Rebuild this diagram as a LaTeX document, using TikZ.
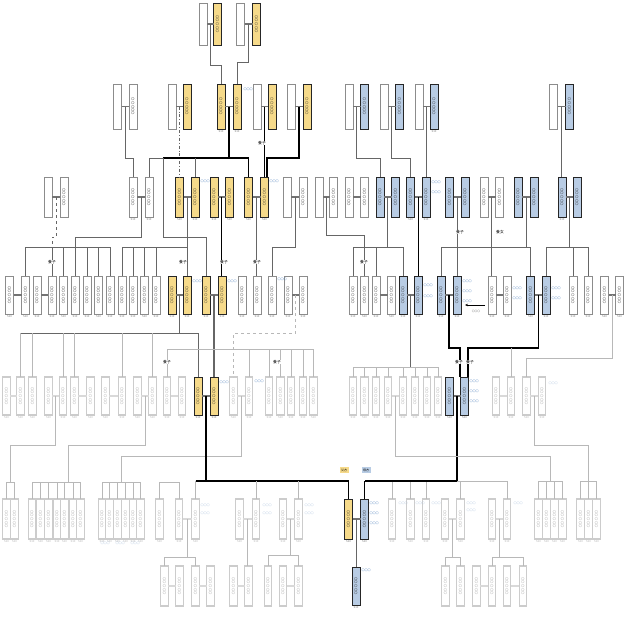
\documentclass[tikz,border=0pt]{standalone}
\usepackage{fontspec}
\newfontfamily\jp{Noto Sans CJK JP}
\usetikzlibrary{calc,arrows.meta}
\definecolor{ylw}{HTML}{F6DA8A}
\definecolor{blu}{HTML}{B8CCE4}
\definecolor{lbl}{HTML}{4A7EBB}
\newcommand\nm{〇〇 〇〇〇}
\newcommand\drops[3]{\foreach \cc in {#3}{\draw[#1] (#2 -| \cc) -- (\cc.north);}}
\newcommand\cpair[4]{\draw[#1] (#2.east) -- (#3.west); \coordinate (#4) at ($(#2)!.5!(#3)$);}
\tikzset{
 box/.style={rectangle, minimum width=8pt, inner sep=0pt, outer sep=0pt},
 yb/.style={box, fill=ylw, draw=black!85, line width=0.8pt},
 bb/.style={box, fill=blu, draw=black!85, line width=0.8pt},
 wb/.style={box, fill=white, draw=black!45, line width=0.5pt},
 fb/.style={box, minimum width=7.4pt, fill=white, draw=black!20, line width=1.2pt},
 txt/.style={rotate=-90, font=\jp\fontsize{3.3}{3.5}\selectfont, text=black!90, inner sep=0pt},
 ftxt/.style={txt, text=black!40},
 dl/.style={font=\jp\fontsize{2.8}{3}\selectfont, text=black!50, inner sep=0.3pt},
 fdl/.style={dl, text=black!28},
 bl/.style={font=\jp\fontsize{3.1}{3.3}\selectfont, text=lbl, inner sep=0.3pt, anchor=west},
 fbl/.style={bl, text=lbl!45},
 yz/.style={font=\jp\fontsize{3.8}{4}\selectfont, text=black, fill=white, inner sep=0.5pt},
 conn/.style={draw=black!60, line width=0.8pt},
 mainl/.style={draw=black, line width=1.2pt},
 fconn/.style={draw=black!28, line width=0.9pt},
 cpl/.style={draw=black!55, line width=1.6pt},
 fcpl/.style={draw=black!15, line width=2.6pt},
 head/.style={font=\jp\fontsize{3}{3.2}\selectfont, inner sep=1.5pt},
}
\begin{document}
\begin{tikzpicture}[x=1pt,y=-1pt]
\useasboundingbox (0,0) rectangle (625,625);
\fill[white] (0,0) rectangle (625,625);
% ---------------- Row 1
\foreach \n/\x in {t1a/203, t2a/240.5} \node[wb, minimum height=42pt] (\n) at (\x,24) {};
\foreach \n/\x in {t1b/217.5, t2b/256.5} {\node[yb, minimum height=42pt] (\n) at (\x,24) {}; \node[txt] (\n-t) at (\n) {\nm};}
% ---------------- Row 2
\foreach \n/\x in {a1/117.5, b1/172, d1/257, e1/291, f1/349, g1/384, h1/419, i1/553.5} \node[wb, minimum height=45pt] (\n) at (\x,106.5) {};
\foreach \n/\x/\s in {a2/133/wb, b2/187/yb, c1/221/yb, c2/237/yb, d2/272/yb, e2/307/yb, f2/364.5/bb, g2/399.5/bb, h2/434/bb, i2/569.5/bb}
 {\node[\s, minimum height=45pt] (\n) at (\x,106.5) {}; \node[txt] (\n-t) at (\n) {\nm};}
\foreach \n in {c1,c2,h2} \node[dl, below=1pt] (\n-d) at (\n.south) {S10};
% ---------------- Row 3
\foreach \n/\x in {s1/48, s11/287, s13/319} \node[wb, minimum height=40pt] (\n) at (\x,197) {};
\foreach \n/\x/\s in {s2/64/wb, s3/133/wb, s4/149/wb, s5/179.5/yb, s6/195/yb, s7/214/yb, s8/229.5/yb, s9/248.5/yb, s10/264.5/yb, s12/303/wb, s14/333.5/wb, s15/349/wb, s16/364.5/wb, s17/380/bb, s18/395.5/bb, s19/410.5/bb, s20/426/bb, s21/449.5/bb, s22/465/bb, s23/484/wb, s24/499.5/wb, s25/518/bb, s26/534/bb, s27/562/bb, s28/577/bb}
 {\node[\s, minimum height=40pt] (\n) at (\x,197) {}; \node[txt] (\n-t) at (\n) {\nm};}
\foreach \n in {s3,s4,s5,s6,s7,s8,s9,s10,s19,s20,s27} \node[dl, below=1pt] (\n-d) at (\n.south) {S10};
% ---------------- Row 4
\foreach \n/\x/\s in {q1/9.5/wb, q2/25.5/wb, q3/37/wb, q4/52/wb, q5/63.5/wb, q6/75/wb, q7/87/wb, q8/98.5/wb, q9/110/wb, q10/122/wb, q11/133/wb, q12/144.5/wb, q13/156/wb, q14/172/yb, q15/187/yb, q16/206/yb, q17/222/yb, q18/242/wb, q19/257/wb, q20/272/wb, q21/288/wb, q22/303/wb, p1/353/wb, p2/364.5/wb, p3/376/wb, p4/391.5/wb, p5/403/bb, p6/418/bb, p7/441/bb, p8/457/bb, p9/492/wb, p10/507/wb, p11/530.5/bb, p12/546/bb, p13/573/wb, p14/588/wb, p15/604.5/wb, p16/619.5/wb}
 {\node[\s, minimum height=38pt] (\n) at (\x,295) {}; \node[txt] (\n-t) at (\n) {\nm}; \node[dl, below=1pt] (\n-d) at (\n.south) {S10};}
% ---------------- Row 5
\foreach \n/\x in {v1/6.5, v2/20.5, v3/32.5, v4/48.5, v5/63, v6/74.5, v7/90.5, v8/105.5, v9/122, v10/137.5, v11/152.5, v12/167, v13/182, v16/233.5, v17/249, v18/269, v19/280.5, v20/291, v21/303, v22/313.5, w1/353, w2/364.5, w3/376, w4/388, w5/403, w6/415, w7/427, w8/438, w11/496, w12/511, w13/526.5, w14/542}
 {\node[fb, minimum height=38pt] (\n) at (\x,396) {}; \node[ftxt] (\n-t) at (\n) {\nm}; \node[fdl, below=1pt] (\n-d) at (\n.south) {S10};}
\foreach \n/\x/\s in {v14/198/yb, v15/214/yb, w9/449.5/bb, w10/464.5/bb}
 {\node[\s, minimum height=38pt] (\n) at (\x,396) {}; \node[txt] (\n-t) at (\n) {\nm}; \node[dl, below=1pt] (\n-d) at (\n.south) {S10};}
% ---------------- Row 6
\foreach \n/\x in {x1/6.5, x2/14.5, x3/32, x4/40.5, x5/48.5, x6/57, x7/64.5, x8/73, x9/80.5, x10/102, x11/109.5, x12/117.5, x13/125.5, x14/133, x15/140.5, x16/159.5, x17/179, x18/195.5, x19/239.5, x20/256, x21/283, x22/298.5, z1/392, z2/410.5, z3/426, z4/445, z5/460.5, z6/492, z7/507, z8/538.5, z9/546.5, z10/554.5, z11/562.5, z12/580.5, z13/588.5, z14/596.5}
 {\node[fb, minimum height=40pt] (\n) at (\x,519) {}; \node[ftxt] (\n-t) at (\n) {\nm}; \node[fdl, below=1pt] (\n-d) at (\n.south) {S10};}
\foreach \n/\x/\s in {y1/348.5/yb, y2/364.5/bb}
 {\node[\s, minimum height=40pt] (\n) at (\x,519) {}; \node[txt] (\n-t) at (\n) {\nm}; \node[dl, below=1pt] (\n-d) at (\n.south) {S10};}
% ---------------- Row 7
\foreach \n/\x in {u1/164.5, u2/179.5, u3/195.5, u4/210.5, u5/233.5, u6/248.5, u7/268, u8/283, u9/298.5, k1/445.5, k2/460.5, k3/476.5, k4/492, k5/507, k6/523}
 {\node[fb, minimum height=40pt] (\n) at (\x,586) {}; \node[ftxt] (\n-t) at (\n) {\nm};}
\node[bb, minimum height=38pt] (c0) at (356,586) {}; \node[txt] (c0-t) at (c0) {\nm};
\node[dl, below=1pt] (c0-d) at (c0.south) {S10};

% ---------------- couple connectors
\cpair{cpl}{t1a}{t1b}{T1} \cpair{cpl}{t2a}{t2b}{T2}
\cpair{cpl}{a1}{a2}{A} \cpair{cpl}{b1}{b2}{B} \cpair{cpl}{c1}{c2}{C} \cpair{cpl}{d1}{d2}{D} \cpair{cpl}{e1}{e2}{E}
\cpair{cpl}{f1}{f2}{F} \cpair{cpl}{g1}{g2}{G} \cpair{cpl}{h1}{h2}{H} \cpair{cpl}{i1}{i2}{I}
\cpair{cpl}{s1}{s2}{S1} \cpair{cpl}{s3}{s4}{S3} \cpair{cpl}{s5}{s6}{S5} \cpair{cpl}{s7}{s8}{S7} \cpair{cpl}{s9}{s10}{S9}
\cpair{cpl}{s11}{s12}{S11} \cpair{cpl}{s13}{s14}{S13} \cpair{cpl}{s15}{s16}{S15} \cpair{cpl}{s17}{s18}{S17} \cpair{cpl}{s19}{s20}{S19}
\cpair{cpl}{s21}{s22}{S21} \cpair{cpl}{s23}{s24}{S23} \cpair{cpl}{s25}{s26}{S25} \cpair{cpl}{s27}{s28}{S27}
\cpair{cpl}{q1}{q2}{Q1} \cpair{cpl}{q3}{q4}{Q3} \cpair{cpl}{q14}{q15}{Q14} \cpair{cpl}{q16}{q17}{Q16} \cpair{cpl}{q21}{q22}{Q21}
\cpair{cpl}{p3}{p4}{P3} \cpair{cpl}{p5}{p6}{P5} \cpair{cpl}{p7}{p8}{P7} \cpair{cpl}{p9}{p10}{P9} \cpair{cpl}{p11}{p12}{P11} \cpair{cpl}{p15}{p16}{P15}
\cpair{fcpl}{v1}{v2}{V1} \cpair{fcpl}{v4}{v5}{V4} \cpair{fcpl}{v6}{v7}{V6} \cpair{fcpl}{v8}{v9}{V8} \cpair{fcpl}{v10}{v11}{V10} \cpair{fcpl}{v12}{v13}{V12}
\cpair{cpl}{v14}{v15}{V14} \cpair{fcpl}{v16}{v17}{V16} \cpair{fcpl}{w4}{w5}{W4} \cpair{cpl}{w9}{w10}{W9} \cpair{fcpl}{w11}{w12}{W11} \cpair{fcpl}{w13}{w14}{W13}
\cpair{fcpl}{x17}{x18}{X17} \cpair{fcpl}{x19}{x20}{X19} \cpair{fcpl}{x21}{x22}{X21} \cpair{cpl}{y1}{y2}{Y1} \cpair{fcpl}{z4}{z5}{Z4} \cpair{fcpl}{z6}{z7}{Z6}
\cpair{fcpl}{u1}{u2}{U1} \cpair{fcpl}{u3}{u4}{U3} \cpair{fcpl}{u5}{u6}{U5} \cpair{fcpl}{u8}{u9}{U8} \cpair{fcpl}{k3}{k4}{K3} \cpair{fcpl}{k5}{k6}{K5}

% ---------------- row 1 -> 2
\draw[conn, line width=1pt] (T1) -- ++(0,41) -| (c1.north);
\draw[conn, line width=1pt] (T2) -- ++(0,38) -| (c2.north);
% ---------------- row 2 -> 3
\draw[conn] (A) -- ++(0,51.5) -| (s3.north);
\draw[conn, dash dot] (B) -- (B |- s5.north);
\draw[mainl] (C) -- ++(0,51.5) coordinate (Cj);
\coordinate (Cx) at (163,158);
\draw[conn] (Cj -| s4) -- (Cx);
\draw[mainl] (Cx) -- (Cj -| s9);
\drops{conn}{Cj}{s4,s6}
\drops{mainl}{Cj}{s9}
\draw[conn] (Cx) -- ++(0,79) -| (q16.north);
\draw[mainl] (D) -- (D |- s10.north);
\draw[mainl] (E) -- ++(0,51.5) -| ([xshift=2.5pt]s10.north);
\draw[conn] (F) -- ++(0,51.5) -| (s17.north);
\draw[conn] (G) -- ++(0,51.5) -| (s19.north);
\draw[conn] (H) -- (H |- s20.north);
\draw[conn] (I) -- (I |- s27.north);
% ---------------- row 3 -> 4
\draw[conn, dashed] (S1) -- ++(0,40) -| (q4.north);
\coordinate (L1) at (75,247);
\draw[conn] (S3) -- ++(0,40) -| (L1);
\draw[conn] (L1 -| q2) -- (L1 -| q9);
\drops{conn}{L1}{q2,q4,q5,q6,q7,q8,q9}
\draw[conn] (S5) -- ++(0,50) coordinate (S5j);
\draw[conn] (S5j -| q10) -- (S5j);
\drops{conn}{S5j}{q10,q11,q12,q13,q15}
\draw[mainl] (S7) -- (S7 |- q17.north);
\draw[conn] (S9) -- (S9 |- q19.north);
\draw[conn] (S11) -- ++(0,50) -| (q20.north);
\draw[conn] (S13) -- ++(0,38) -| (p2.north);
\draw[conn] (S17) -- ++(0,50) coordinate (S17j);
\draw[conn] (S17j -| p1) -- (S17j -| p5);
\drops{conn}{S17j}{p1,p3,p5}
\draw[mainl] (S19) -- (S19 |- p6.north);
\draw[conn] (S21) -- (S21 |- p8.north);
\draw[conn] (S23) -- (S23 |- p9.north);
\draw[conn] (S25) -- ++(0,50) coordinate (S25j);
\draw[conn] (S25j -| p7) -- (S25j -| p11);
\drops{conn}{S25j}{p7,p11}
\draw[conn] (S27) -- ++(0,50) coordinate (S27j);
\draw[conn] (S27j -| p12) -- (S27j -| p14);
\drops{conn}{S27j}{p12,p13,p14}
% ---------------- row 4 -> 5
\draw[conn] (Q14) -- ++(0,38) coordinate (Q14j);
\draw[conn] (Q14j -| v2) -- (Q14j -| v14);
\drops{fconn}{Q14j}{v2,v3,v5,v6,v9,v11}
\drops{conn}{Q14j}{v14}
\draw[conn, line width=1.2pt] (Q16) -- (Q16 |- v15.north);
\coordinate (M1) at (214,349);
\draw[fconn] (M1 -| v12) -- (M1 -| v22);
\drops{fconn}{M1}{v12,v17,v18,v19,v20,v21,v22}
\draw[fconn, dashed] (Q21) -- ++(0,38) -| (v16.north);
\draw[conn] (P5) -- ++(0,72) coordinate (P5j);
\draw[fconn] (P5j -| w1) -- (P5j -| w8);
\drops{fconn}{P5j}{w1,w2,w3,w4,w5,w6,w7,w8}
\draw[mainl] (P7) -- ++(0,53) -| ([xshift=-4.5pt]w10.north);
\draw[mainl] (P11) -- ++(0,53) coordinate (P11j) -| ([xshift=3.5pt]w10.north);
\draw[fconn] (P11j -| w12) -- (w12.north);
\draw[fconn] (P15) -- ++(0,63) -| (w13.north);
% ---------------- row 5 -> 6
\coordinate (L2) at (10.5,482);
\draw[fconn] (V4) -- ++(0,49) -| (L2);
\draw[fconn] (L2 -| x1) -- (L2 -| x2);
\drops{fconn}{L2}{x1,x2}
\coordinate (L3) at (68,482);
\draw[fconn] (V10) -- ++(0,49) -| (L3);
\draw[fconn] (L3 -| x3) -- (L3 -| x9);
\drops{fconn}{L3}{x3,x4,x5,x6,x7,x8,x9}
\coordinate (L4) at (121,482);
\draw[fconn] (V16) -- ++(0,60) -| (L4);
\draw[fconn] (L4 -| x10) -- (L4 -| x15);
\drops{fconn}{L4}{x10,x11,x12,x13,x14,x15}
\draw[fconn] (x16.north) -- ++(0,-17) -| (x17.north);
\draw[mainl] (V14) -- ++(0,85) coordinate (V14j);
\draw[mainl] (V14j -| x18) -- (V14j -| y1);
\drops{fconn}{V14j}{x18,x20,x22}
\drops{mainl}{V14j}{y1}
\draw[mainl] (W9) -- ++(0,85) coordinate (W9j);
\draw[fconn] (W9j) -- (W9j -| z7);
\drops{fconn}{W9j}{z1,z2,z3,z5,z7}
\draw[mainl] (W9j) -- (W9j -| y2);
\drops{mainl}{W9j}{y2}
\coordinate (L5) at (550,481);
\draw[fconn] (W4) -- ++(0,60) -| (L5);
\draw[fconn] (L5 -| z8) -- (L5 -| z11);
\drops{fconn}{L5}{z8,z9,z10,z11}
\coordinate (L6) at (588.5,481);
\draw[fconn] (W13) -- ++(0,49) -| (L6);
\draw[fconn] (L6 -| z12) -- (L6 -| z14);
\drops{fconn}{L6}{z12,z13,z14}
% ---------------- row 6 -> 7
\draw[fconn] (X17) -- ++(0,38) coordinate (X17j);
\draw[fconn] (X17j -| u1) -- (X17j -| u3);
\drops{fconn}{X17j}{u1,u3}
\draw[fconn] (X19) -- (X19 |- u6.north);
\draw[fconn] (X21) -- ++(0,36) coordinate (X21j);
\draw[fconn] (X21j -| u7) -- (X21j -| u9);
\drops{fconn}{X21j}{u7,u9}
\draw[fconn] (Z4) -- ++(0,38) coordinate (Z4j);
\draw[fconn] (Z4j -| k1) -- (Z4j -| k2);
\drops{fconn}{Z4j}{k1,k2}
\draw[fconn] (Z6) -- ++(0,38) coordinate (Z6j);
\draw[fconn] (Z6j -| k4) -- (Z6j -| k6);
\drops{fconn}{Z6j}{k4,k6}
\draw[conn] (Y1) -- (Y1 |- c0.north);
% ---------------- arrow
\coordinate (ar1) at (485,305); \coordinate (ar2) at (465,305);
\draw[conn, draw=black, -{Stealth[length=3pt,width=2.5pt]}] (ar1) -- (ar2);
\node[dl, text=black!60] (arl) at (476,311) {〇〇〇};
% ---------------- adoption labels
\foreach \x/\y/\t [count=\i] in {262/143/養子, 52/262/養子, 183/262/養子, 224/262/養子, 257/262/養子, 364/262/養子, 460/232/養子, 500/232/養女, 167/362/養子, 277/362/養子, 459/362/養子, 470/362/養子}
 \node[yz] (yz\i) at (\x,\y) {\t};
% ---------------- side labels (blue)
\foreach \x/\y [count=\i] in {243/89, 200/181, 269/181, 431/182, 431/192, 423/285, 423/296, 462/281, 462/291, 462/301, 512/288, 512/298, 551/288, 551/298, 192/281, 227/281, 277/279, 219/382, 254/381, 469/381, 469/391, 469/401, 369/503, 369/513, 369/523, 361/570}
 \node[bl] (bl\i) at (\x,\y) {〇〇〇};
\foreach \x/\y [count=\i] in {200/505, 200/513, 262/505, 262/513, 304/505, 304/513, 398/503, 415/503, 431/503, 466/503, 466/510, 513/503, 548/383, 100/543, 115/543, 130/543}
 \node[fbl] (fbl\i) at (\x,\y) {〇〇〇};
% ---------------- side headings
\node[head, fill=ylw] (hf) at (344,470) {父方};
\node[head, fill=blu] (hm) at (366,470) {母方};
\end{tikzpicture}
\end{document}
